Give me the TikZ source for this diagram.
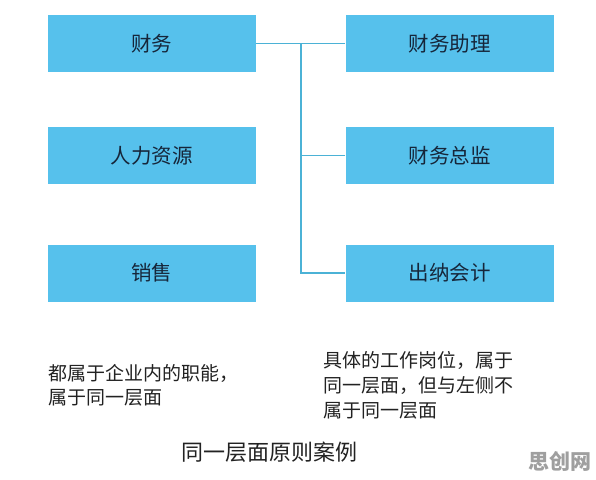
\documentclass[tikz,border=0pt]{standalone}
\usepackage{fontspec}
\setmainfont{Noto Sans CJK SC}
\begin{document}
\begin{tikzpicture}[x=1pt,y=-1pt,
  box/.style={fill=boxblue,draw=none,minimum width=208pt,minimum height=57pt,inner sep=0pt,font=\fontsize{20.5}{20.5}\selectfont,text=boxtext},
  conn/.style={draw=lineblue,line width=1.3pt},
  note/.style={anchor=north west,align=left,inner sep=0pt,text=notetext}]
\definecolor{boxblue}{HTML}{56C1EC}
\definecolor{boxtext}{HTML}{16263A}
\definecolor{lineblue}{HTML}{4BB2D6}
\definecolor{notetext}{HTML}{222222}
\useasboundingbox (0,0) rectangle (596,479);
\fill[white] (0,0) rectangle (596,479);
\node[box] (a) at (151.5,43.5) {财务};
\node[box] (b) at (151.5,155.5) {人力资源};
\node[box] (c) at (151.5,273) {销售};
\node[box] (d) at (449.5,43.5) {财务助理};
\node[box] (e) at (449.5,155.5) {财务总监};
\node[box] (f) at (449.5,273) {出纳会计};
\coordinate (j) at (301,43.5);
\coordinate (k) at (301,273);
\draw[conn] (a.east) -- (d.west);
\draw[conn] (j) -- (k) -- (f.west);
\draw[conn] (e.west) -- (e.west -| j);
\node[note,font=\fontsize{19}{24}\selectfont] (n1) at (48,364) {都属于企业内的职能，\\属于同一层面};
\node[note,font=\fontsize{19}{25}\selectfont] (n2) at (323,351) {具体的工作岗位，属于\\同一层面，但与左侧不\\属于同一层面};
\node[font=\fontsize{22}{22}\selectfont,text=notetext,inner sep=0pt] (t) at (269,452) {同一层面原则案例};
\node[font=\bfseries\fontsize{21}{21}\selectfont,text=gray!75,inner sep=0pt] (w) at (559.5,461) {思创网};
\end{tikzpicture}
\end{document}
